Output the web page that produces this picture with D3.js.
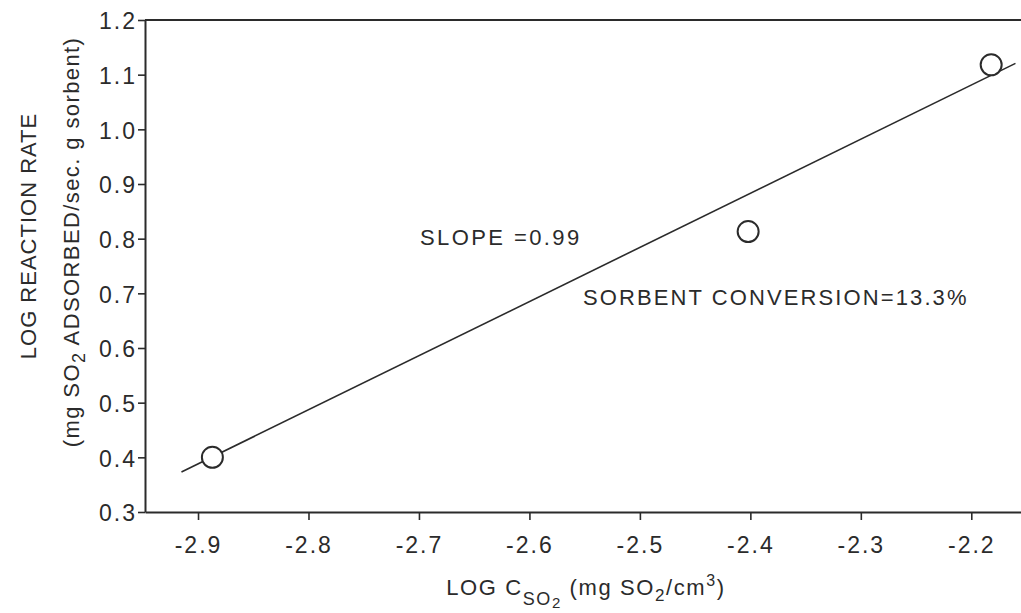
<!DOCTYPE html>
<html>
<head>
<meta charset="utf-8">
<script src="https://cdn.jsdelivr.net/npm/d3@7"></script>
<style>
  html, body { margin: 0; padding: 0; background: #fff; }
  svg { display: block; }
  text { font-family: "Liberation Sans", Arial, sans-serif; fill: #2b2b2b; }
</style>
</head>
<body>
<svg id="chart" width="1021" height="613"></svg>
<script>
// Measured points: log SO2 concentration vs log reaction rate
const logConc = [-2.887, -2.402, -2.182];
const logRate = [0.400, 0.813, 1.118];

// Fitted line: slope from the annotation, extent of the drawn segment
const fitSlope = 0.99;
const fitIntercept = 3.259;
const fitRange = [-2.915, -2.160];

// Axis ticks
const xTicks = [-2.9, -2.8, -2.7, -2.6, -2.5, -2.4, -2.3, -2.2];
const yTicks = [0.3, 0.4, 0.5, 0.6, 0.7, 0.8, 0.9, 1.0, 1.1, 1.2];

const svg = d3.select("#chart");
const ink = "#2b2b2b";

const plot = { left: 145, right: 1021, top: 20, bottom: 512 };

const x = d3.scaleLinear().domain([-2.948, -2.155]).range([plot.left, plot.right]);
const y = d3.scaleLinear().domain([0.3, 1.2]).range([plot.bottom, plot.top]);

// Frame: top border line (no right border inside view)
svg.append("line")
  .attr("x1", plot.left).attr("x2", plot.right)
  .attr("y1", plot.top).attr("y2", plot.top)
  .attr("stroke", ink).attr("stroke-width", 2);

// X axis
const xAxis = svg.append("g")
  .attr("transform", `translate(0,${plot.bottom})`)
  .call(d3.axisBottom(x).tickValues(xTicks).tickSize(8).tickSizeOuter(0)
    .tickFormat(d3.format(".1f")));

// Y axis
const yAxis = svg.append("g")
  .attr("transform", `translate(${plot.left},0)`)
  .call(d3.axisLeft(y).tickValues(yTicks).tickSize(7).tickSizeOuter(0)
    .tickFormat(d3.format(".1f")));

[xAxis, yAxis].forEach(g => {
  g.select(".domain").attr("stroke", ink).attr("stroke-width", 2);
  g.selectAll(".tick line").attr("stroke", ink).attr("stroke-width", 1.6);
  g.selectAll(".tick text")
    .attr("fill", ink)
    .style("font-size", "23px")
    .style("letter-spacing", "2px")
    .style("font-family", '"Liberation Sans", Arial, sans-serif');
});
xAxis.selectAll(".tick text").attr("dy", "1.3em").text(d => d3.format(".1f")(d).replace("−", "-"));
yAxis.selectAll(".tick text").attr("x", -8).attr("dy", "0.38em");

// Fitted line
const fitLine = d3.line().x(d => x(d)).y(d => y(fitSlope * d + fitIntercept));
svg.append("path")
  .datum(fitRange)
  .attr("d", fitLine)
  .attr("fill", "none")
  .attr("stroke", ink)
  .attr("stroke-width", 1.6);

// Data circles
svg.selectAll("circle.pt")
  .data(d3.zip(logConc, logRate))
  .join("circle")
  .attr("class", "pt")
  .attr("cx", d => x(d[0]))
  .attr("cy", d => y(d[1]))
  .attr("r", 10.5)
  .attr("fill", "#fff")
  .attr("stroke", ink)
  .attr("stroke-width", 2);

// Annotations
svg.append("text")
  .attr("x", 420).attr("y", 245)
  .style("font-size", "22px").style("letter-spacing", "2.4px")
  .text("SLOPE =0.99");

svg.append("text")
  .attr("x", 583).attr("y", 305)
  .style("font-size", "22px").style("letter-spacing", "2.1px")
  .text("SORBENT  CONVERSION=13.3%");

// X axis title: LOG C_{SO_2} (mg SO2/cm3)
const xt = svg.append("text")
  .attr("x", 586).attr("y", 595)
  .attr("text-anchor", "middle")
  .style("font-size", "22px").style("letter-spacing", "1.6px");
xt.append("tspan").text("LOG  C");
xt.append("tspan").attr("dy", 10).style("font-size", "18px").text("SO");
xt.append("tspan").attr("dy", 3).style("font-size", "15px").text("2");
xt.append("tspan").attr("dy", -13).text(" (mg  SO");
xt.append("tspan").attr("dy", 6).style("font-size", "17px").text("2");
xt.append("tspan").attr("dy", -6).text("/cm");
xt.append("tspan").attr("dy", -9).style("font-size", "16px").text("3");
xt.append("tspan").attr("dy", 9).text(")");

// Y axis titles (rotated)
svg.append("text")
  .attr("transform", "translate(36,236) rotate(-90)")
  .attr("text-anchor", "middle")
  .style("font-size", "22px").style("letter-spacing", "1px")
  .text("LOG  REACTION  RATE");

const yt = svg.append("text")
  .attr("transform", "translate(79,242) rotate(-90)")
  .attr("text-anchor", "middle")
  .style("font-size", "22px").style("letter-spacing", "1.4px");
yt.append("tspan").text("(mg  SO");
yt.append("tspan").attr("dy", 6).style("font-size", "18px").text("2");
yt.append("tspan").attr("dy", -6).text("  ADSORBED/sec. g  sorbent)");
</script>
</body>
</html>
